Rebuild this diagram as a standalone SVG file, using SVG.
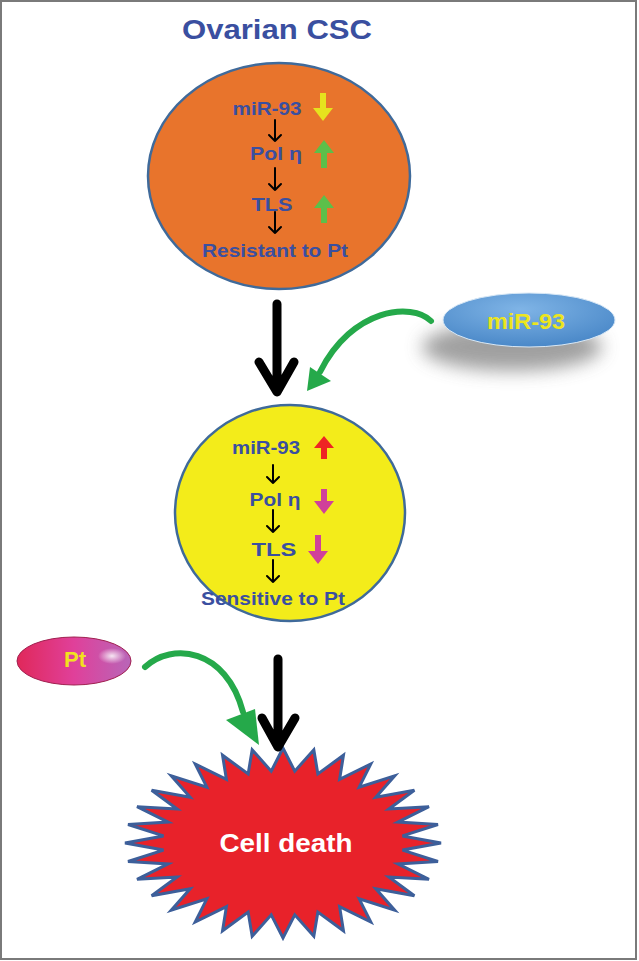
<svg xmlns="http://www.w3.org/2000/svg" width="639" height="961" viewBox="0 0 639 961">
<style>
.t{font-family:"Liberation Sans",Arial,sans-serif;font-weight:bold;text-anchor:middle}
.blue{fill:#3a4fa0}
.blk{fill:none;stroke:#000;stroke-width:2;stroke-linecap:round;stroke-linejoin:round}
.big{fill:none;stroke:#000;stroke-width:9;stroke-linecap:round;stroke-linejoin:round}
.grn{fill:none;stroke:#25a94a;stroke-width:6;stroke-linecap:round}
</style>
<defs>
<radialGradient id="gBlue" cx="0.45" cy="0.3" r="0.7">
<stop offset="0" stop-color="#7fb4e6"/><stop offset="1" stop-color="#4a88c8"/>
</radialGradient>
<linearGradient id="gPink" x1="0" y1="0" x2="1" y2="0">
<stop offset="0" stop-color="#e0285a"/><stop offset="0.5" stop-color="#e0409a"/><stop offset="1" stop-color="#b866b8"/>
</linearGradient>
<radialGradient id="gHi" cx="0.5" cy="0.5" r="0.5">
<stop offset="0" stop-color="#ffffff" stop-opacity="0.85"/><stop offset="1" stop-color="#ffffff" stop-opacity="0"/>
</radialGradient>
<filter id="blur" x="-30%" y="-50%" width="160%" height="200%"><feGaussianBlur stdDeviation="9"/></filter>
</defs>
<rect x="1" y="1" width="635" height="958" fill="#fff" stroke="#7a7a7a" stroke-width="2"/>

<g id="title"><text class="t blue" x="277" y="39" font-size="27" textLength="190" lengthAdjust="spacingAndGlyphs">Ovarian CSC</text></g>

<g id="csc">
<ellipse cx="279" cy="176" rx="131" ry="113" fill="#e8742c" stroke="#3f6a9a" stroke-width="2.5"/>
<text class="t blue" x="267" y="115" font-size="18" textLength="69" lengthAdjust="spacingAndGlyphs">miR-93</text>
<text class="t blue" x="276" y="160" font-size="18" textLength="52" lengthAdjust="spacingAndGlyphs">Pol η</text>
<text class="t blue" x="272" y="211" font-size="18" textLength="41" lengthAdjust="spacingAndGlyphs">TLS</text>
<text class="t blue" x="275" y="257" font-size="18" textLength="146" lengthAdjust="spacingAndGlyphs">Resistant to Pt</text>
<path class="blk" d="M275 120V141M269 135L275 141L281 135M275 168V190M269 184L275 190L281 184M275 212V233M269 227L275 233L281 227"/>
<path d="M320 93h6v15h7l-10 13l-10-13h7z" fill="#e6e21e"/>
<path d="M321 168h6v-15h7l-10-13l-10 13h7z" fill="#5cbf4a"/>
<path d="M321 223h6v-15h7l-10-13l-10 13h7z" fill="#5cbf4a"/>
</g>

<g id="mir93">
<ellipse cx="512" cy="347" rx="90" ry="24" fill="#888" opacity="0.8" filter="url(#blur)"/>
<ellipse cx="529" cy="320" rx="86" ry="27" fill="url(#gBlue)" stroke="#d8e8f6" stroke-width="1"/>
<text class="t" x="526" y="329" font-size="22" fill="#ece51e" textLength="78" lengthAdjust="spacingAndGlyphs">miR-93</text>
</g>

<g id="sensitive">
<ellipse cx="290" cy="513" rx="115" ry="108" fill="#f3ec1a" stroke="#3f6a9a" stroke-width="2.5"/>
<text class="t blue" x="266" y="454" font-size="18" textLength="68" lengthAdjust="spacingAndGlyphs">miR-93</text>
<text class="t blue" x="275" y="506" font-size="18" textLength="51" lengthAdjust="spacingAndGlyphs">Pol η</text>
<text class="t blue" x="274" y="556" font-size="18" textLength="45" lengthAdjust="spacingAndGlyphs">TLS</text>
<text class="t blue" x="273" y="605" font-size="18" textLength="144" lengthAdjust="spacingAndGlyphs">Sensitive to Pt</text>
<path class="blk" d="M273 465V483M267 477L273 483L279 477M273 510V532M267 526L273 532L279 526M273 560V582M267 576L273 582L279 576"/>
<path d="M321 459h6v-11h7l-10-12l-10 12h7z" fill="#ee2424"/>
<path d="M321 489h6v12h7l-10 13l-10-13h7z" fill="#d0409a"/>
<path d="M315 535h6v16h7l-10 13l-10-13h7z" fill="#d0409a"/>
</g>

<g id="pt">
<ellipse cx="74" cy="661" rx="57" ry="24" fill="url(#gPink)" stroke="#a02050" stroke-width="1"/>
<ellipse cx="112" cy="656" rx="14" ry="8" fill="url(#gHi)"/>
<text class="t" x="75" y="667" font-size="22" fill="#f2e21e">Pt</text>
</g>

<g id="celldeath">
<polygon transform="translate(283,843) scale(1.58,0.95)" vector-effect="non-scaling-stroke" fill="#e8222a" stroke="#3d5f9a" stroke-width="3" stroke-linejoin="miter"
points="100,0 75.64,7.45 98.08,19.51 72.72,22.06 92.39,38.27 67.02,35.83 83.15,55.56 58.75,48.21 70.71,70.71 48.21,58.75 55.56,83.15 35.83,67.02 38.27,92.39 22.06,72.72 19.51,98.08 7.45,75.64 0,100 -7.45,75.64 -19.51,98.08 -22.06,72.72 -38.27,92.39 -35.83,67.02 -55.56,83.15 -48.21,58.75 -70.71,70.71 -58.75,48.21 -83.15,55.56 -67.02,35.83 -92.39,38.27 -72.72,22.06 -98.08,19.51 -75.64,7.45 -100,0 -75.64,-7.45 -98.08,-19.51 -72.72,-22.06 -92.39,-38.27 -67.02,-35.83 -83.15,-55.56 -58.75,-48.21 -70.71,-70.71 -48.21,-58.75 -55.56,-83.15 -35.83,-67.02 -38.27,-92.39 -22.06,-72.72 -19.51,-98.08 -7.45,-75.64 0,-100 7.45,-75.64 19.51,-98.08 22.06,-72.72 38.27,-92.39 35.83,-67.02 55.56,-83.15 48.21,-58.75 70.71,-70.71 58.75,-48.21 83.15,-55.56 67.02,-35.83 92.39,-38.27 72.72,-22.06 98.08,-19.51 75.64,-7.45"/>
<text class="t" x="286" y="852" font-size="25" fill="#fff" textLength="133" lengthAdjust="spacingAndGlyphs">Cell death</text>
</g>

<g id="connectors">
<path class="big" d="M277 304V391M259 362L277 392L294 362"/>
<path class="big" d="M278 659V746M262 718L278 747L295 718"/>
<path class="grn" d="M431 321C412 302 352 308 320 372"/>
<path d="M307 391L310 367L331 381Z" fill="#25a94a"/>
<path class="grn" d="M145 667C172 642 226 648 243 712"/>
<path d="M259 745L226 720L255 709Z" fill="#25a94a"/>
</g>
</svg>
